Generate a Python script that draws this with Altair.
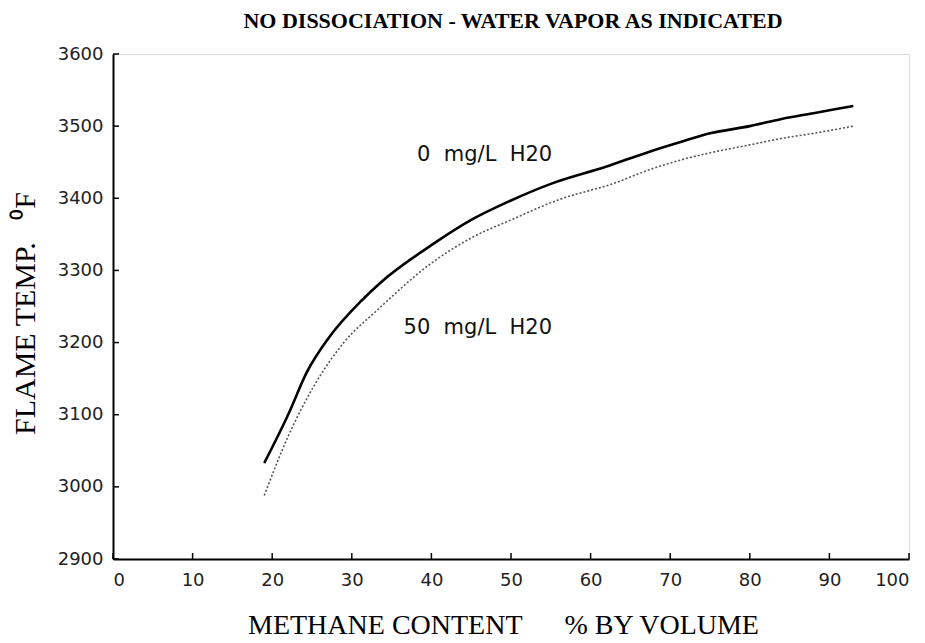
import altair as alt
import pandas as pd

NB = "\u00a0"

# --- data ---
methane_0 = [19.0, 22.0, 24.4, 27.0, 31.3, 33.6, 40.0, 45.0, 50.0, 55.0, 62.0, 67.5, 71.3, 75.0, 80.0, 84.0, 88.0, 93.0]
temp_0 = [3033, 3100, 3160, 3205, 3259, 3283, 3335, 3370, 3397, 3420, 3444, 3465, 3478, 3490, 3500, 3510, 3518, 3528]

methane_50 = [19.0, 22.0, 25.2, 29.0, 33.2, 40.0, 45.0, 50.0, 56.0, 63.0, 67.5, 71.3, 75.0, 80.0, 84.0, 88.0, 93.0]
temp_50 = [2988, 3070, 3139, 3200, 3245, 3310, 3345, 3370, 3398, 3421, 3440, 3453, 3463, 3474, 3483, 3490, 3500]

label_text = ["0" + NB * 2 + "mg/L" + NB * 2 + "H20", "50" + NB * 2 + "mg/L" + NB * 2 + "H20"]
label_x = [38.2, 36.5]
label_y = [3460, 3220]

x_ticks = [0, 10, 20, 30, 40, 50, 60, 70, 80, 90, 100]
y_ticks = [2900, 3000, 3100, 3200, 3300, 3400, 3500, 3600]

x_title = "METHANE CONTENT" + NB * 6 + "% BY VOLUME"
y_title = "FLAME TEMP." + NB * 3 + "\u2070F"

W, H = 796, 505

df0 = pd.DataFrame({"methane": methane_0, "temp": temp_0})
df50 = pd.DataFrame({"methane": methane_50, "temp": temp_50})
dfl = pd.DataFrame({"text": label_text, "methane": label_x, "temp": label_y})
dfxt = pd.DataFrame({"v": x_ticks})
dfyt = pd.DataFrame({"v": y_ticks})

xscale = alt.Scale(domain=[0, 100], nice=False, zero=False)
yscale = alt.Scale(domain=[2900, 3600], nice=False, zero=False)

xaxis = alt.Axis(
    values=x_ticks, format="d", grid=False, ticks=False,
    domainColor="black", domainWidth=2,
    labelFont="DejaVu Sans", labelFontSize=18, labelColor="#222", labelPadding=12,
    title=x_title,
    titleFont="Liberation Serif", titleFontSize=28, titleFontWeight="normal", titleColor="black",
    titleX=390, titleY=66, titleAlign="center", titleBaseline="middle",
)
yaxis = alt.Axis(
    values=y_ticks, format="d", grid=False, ticks=False,
    domainColor="black", domainWidth=2,
    labelFont="DejaVu Sans", labelFontSize=18, labelColor="#222", labelPadding=10,
    title=y_title,
    titleFont="Liberation Serif", titleFontSize=30, titleFontWeight="normal", titleColor="black",
    titleX=-88, titleY=259, titleAlign="center", titleBaseline="middle", titleAngle=270,
)

solid = alt.Chart(df0).mark_line(color="black", strokeWidth=2.6, interpolate="monotone").encode(
    x=alt.X("methane:Q", scale=xscale, axis=xaxis),
    y=alt.Y("temp:Q", scale=yscale, axis=yaxis),
)
dotted = alt.Chart(df50).mark_line(
    color="#555555", strokeWidth=1.6, strokeDash=[2, 2], interpolate="monotone"
).encode(
    x=alt.X("methane:Q", scale=xscale),
    y=alt.Y("temp:Q", scale=yscale),
)
labels = alt.Chart(dfl).mark_text(
    font="DejaVu Sans", fontSize=21, align="left", baseline="middle", color="#111"
).encode(
    x=alt.X("methane:Q", scale=xscale),
    y=alt.Y("temp:Q", scale=yscale),
    text="text:N",
)
xticks = alt.Chart(dfxt).mark_rule(color="black", strokeWidth=1.5).encode(
    x=alt.X("v:Q", scale=xscale), y=alt.value(H), y2=alt.value(H - 6)
)
yticks = alt.Chart(dfyt).mark_rule(color="black", strokeWidth=1.5).encode(
    y=alt.Y("v:Q", scale=yscale), x=alt.value(0), x2=alt.value(6)
)

chart = alt.layer(solid, dotted, labels, xticks, yticks).properties(
    width=W, height=H,
    autosize=alt.AutoSizeParams(type="none"),
    padding={"left": 113, "top": 54, "right": 16, "bottom": 84},
    title=alt.TitleParams(
        "NO DISSOCIATION - WATER VAPOR AS INDICATED",
        font="Liberation Serif", fontSize=22, fontWeight="bold", color="black",
        anchor="middle", offset=12, dx=2,
    ),
).configure_view(stroke="black", strokeWidth=2).configure(background="white")

chart.save("out.html", embed_options={"renderer": "svg", "actions": False})
